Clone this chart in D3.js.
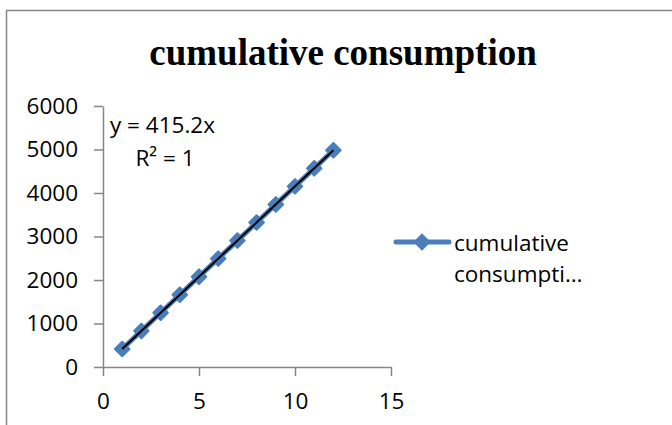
<!DOCTYPE html>
<html>
<head>
<meta charset="utf-8">
<script src="https://cdn.jsdelivr.net/npm/d3@7"></script>
<style>
	body { margin: 0; background: #fff; }
	text { font-family: "Open Sans", sans-serif; fill: #000; }
</style>
</head>
<body>
<div id="chart"></div>
<script>
var xValues = [1, 2, 3, 4, 5, 6, 7, 8, 9, 10, 11, 12];
var consumption = [415, 830, 1246, 1661, 2076, 2491, 2906, 3322, 3737, 4152, 4567, 4982];
var xTicks = [0, 5, 10, 15];
var yTicks = [0, 1000, 2000, 3000, 4000, 5000, 6000];
var trendSlope = 415.2;
var chartTitle = "cumulative consumption";
var seriesName = ["cumulative", "consumpti\u2026"];
var trendLabel = ["y = 415.2x", "R\u00b2 = 1"];

var width = 672, height = 425;
var blue = "#4a7ebb", gray = "#868686";
var fontSize = "22.5px";

var svg = d3.select("#chart").append("svg")
	.attr("width", width)
	.attr("height", height);

svg.append("rect")
	.attr("x", 6.5).attr("y", 10.5)
	.attr("width", 700).attr("height", 450)
	.attr("fill", "#fff")
	.attr("stroke", gray)
	.attr("stroke-width", 1.5);

svg.append("text")
	.attr("x", 343).attr("y", 65)
	.attr("text-anchor", "middle")
	.style("font-family", "'Liberation Serif', serif")
	.style("font-weight", "bold")
	.style("font-size", "37px")
	.text(chartTitle);

var x = d3.scaleLinear().domain([0, 15]).range([103, 391]);
var y = d3.scaleLinear().domain([0, 6000]).range([367, 106]);

// axes
var yAxis = svg.append("g")
	.attr("transform", "translate(103,0)")
	.call(d3.axisLeft(y).tickValues(yTicks).tickFormat(d3.format("d"))
		.tickSize(9).tickPadding(16).tickSizeOuter(0));
var xAxis = svg.append("g")
	.attr("transform", "translate(0,367)")
	.call(d3.axisBottom(x).tickValues(xTicks).tickFormat(d3.format("d"))
		.tickSize(9).tickPadding(17).tickSizeOuter(0));

[xAxis, yAxis].forEach(function(a) {
	a.select(".domain").attr("stroke", gray).attr("stroke-width", 1.5);
	a.selectAll(".tick line").attr("stroke", gray).attr("stroke-width", 1.5);
	a.selectAll(".tick text")
		.style("font-family", "'Open Sans', sans-serif")
		.style("font-size", fontSize)
		.attr("fill", "#000");
});

// series
var pts = xValues.map(function(d, i) { return [d, consumption[i]]; });
var line = d3.line()
	.x(function(d) { return x(d[0]); })
	.y(function(d) { return y(d[1]); });

svg.append("path")
	.datum(pts)
	.attr("d", line)
	.attr("fill", "none")
	.attr("stroke", blue)
	.attr("stroke-width", 5);

var diamond = d3.symbol().type(d3.symbolDiamond2).size(135);
svg.selectAll(".marker")
	.data(pts)
	.enter().append("path")
	.attr("class", "marker")
	.attr("transform", function(d) { return "translate(" + x(d[0]) + "," + y(d[1]) + ")"; })
	.attr("d", diamond)
	.attr("fill", blue)
	.attr("stroke", blue)
	.attr("stroke-width", 2)
	.attr("stroke-linejoin", "round");

// linear trendline through origin
var xmin = d3.min(xValues), xmax = d3.max(xValues);
svg.append("line")
	.attr("x1", x(xmin)).attr("y1", y(trendSlope * xmin))
	.attr("x2", x(xmax)).attr("y2", y(trendSlope * xmax))
	.attr("stroke", "#000")
	.attr("stroke-width", 2);

svg.append("text")
	.attr("x", 110).attr("y", 133)
	.style("font-size", fontSize)
	.text(trendLabel[0]);
svg.append("text")
	.attr("x", 165).attr("y", 166)
	.attr("text-anchor", "middle")
	.style("font-size", fontSize)
	.text(trendLabel[1]);

// legend
var legend = svg.append("g");
legend.append("line")
	.attr("x1", 396).attr("x2", 449)
	.attr("y1", 242).attr("y2", 242)
	.attr("stroke", blue)
	.attr("stroke-width", 5)
	.attr("stroke-linecap", "round");
legend.append("path")
	.attr("transform", "translate(422,242)")
	.attr("d", diamond)
	.attr("fill", blue)
	.attr("stroke", blue)
	.attr("stroke-width", 2);
legend.selectAll(".leg-text")
	.data(seriesName)
	.enter().append("text")
	.attr("x", 454)
	.attr("y", function(d, i) { return 251 + i * 31; })
	.style("font-size", fontSize)
	.text(function(d) { return d; });
</script>
</body>
</html>
